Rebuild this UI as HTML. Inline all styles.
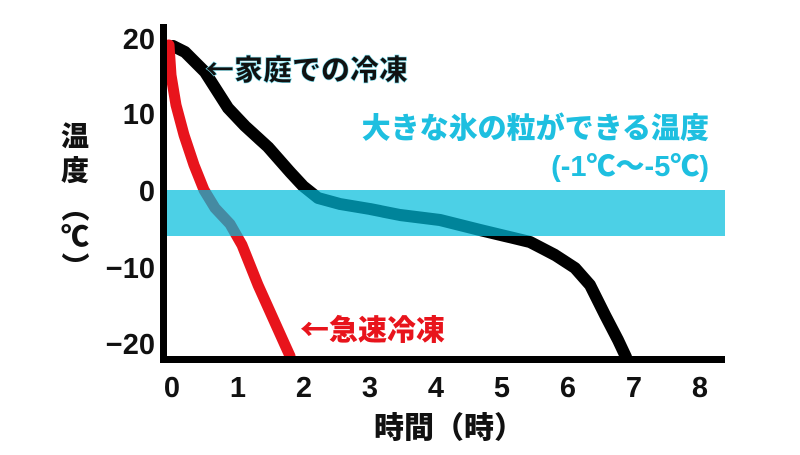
<!DOCTYPE html>
<html><head><meta charset="utf-8"><style>
body{margin:0;background:#fff;}
svg text{font-family:"Liberation Sans","Noto Sans CJK JP",sans-serif;font-weight:900;}
svg tspan.ar{font-family:"Noto Sans CJK JP",sans-serif;}
</style></head><body>
<svg width="800" height="450" viewBox="0 0 800 450" xmlns="http://www.w3.org/2000/svg">
<rect width="800" height="450" fill="#fff"/>
<path d="M173,46 L185,52 L205,72 L228,108 L245,126 L268,147 L290,172 L303,186 L318,198 L340,204 L370,209 L400,215 L440,220 L480,230 L505,236 L530,242 L555,255 L575,268 L590,285 L605,315 L618,340 L626,357" fill="none" stroke="#000" stroke-width="12" stroke-linejoin="round" stroke-linecap="round"/>
<path d="M169,45 L171,75 L176,105 L184,135 L194,165 L204,190 L215,208 L230,224 L242,245 L250,265 L258,285 L267,305 L276,325 L285,345 L290,356" fill="none" stroke="#e8141c" stroke-width="11" stroke-linejoin="round" stroke-linecap="round"/>
<rect x="166" y="190" width="559" height="46" fill="rgba(0,188,220,0.7)"/>
<rect x="160" y="24" width="7" height="339" fill="#000"/>
<rect x="160" y="356" width="565" height="7" fill="#000"/>
<g font-size="29" text-anchor="end" fill="#111">
<text x="155" y="49">20</text><text x="155" y="124">10</text><text x="155" y="201">0</text><text x="155" y="278">−10</text><text x="155" y="354">−20</text>
</g>
<g font-size="29" text-anchor="middle" fill="#111">
<text x="172" y="397">0</text><text x="238" y="397">1</text><text x="304" y="397">2</text><text x="370" y="397">3</text><text x="436" y="397">4</text><text x="502" y="397">5</text><text x="568" y="397">6</text><text x="634" y="397">7</text><text x="700" y="397">8</text>
</g>
<text x="449" y="438" font-size="30" text-anchor="middle" fill="#111">時間（時）</text>
<g font-size="28" text-anchor="middle" fill="#111">
<text x="75" y="146">温</text><text x="75" y="180">度</text>
<text x="75" y="218" transform="rotate(90 75 208)">（</text>
<text x="75" y="246">℃</text>
<text x="75" y="276" transform="rotate(90 75 266)">）</text>
</g>
<text x="205" y="80" font-size="29" fill="#111" stroke="#7fe0f0" stroke-width="0.6"><tspan class="ar">←</tspan>家庭での冷凍</text>
<text x="709" y="138" font-size="29" text-anchor="end" fill="#1ebfe0">大きな氷の粒ができる温度</text>
<text x="709" y="176" font-size="29" text-anchor="end" fill="#1ebfe0">(-1℃〜-5℃)</text>
<text x="300" y="340" font-size="29" fill="#e8141c"><tspan class="ar">←</tspan>急速冷凍</text>
</svg>
</body></html>
